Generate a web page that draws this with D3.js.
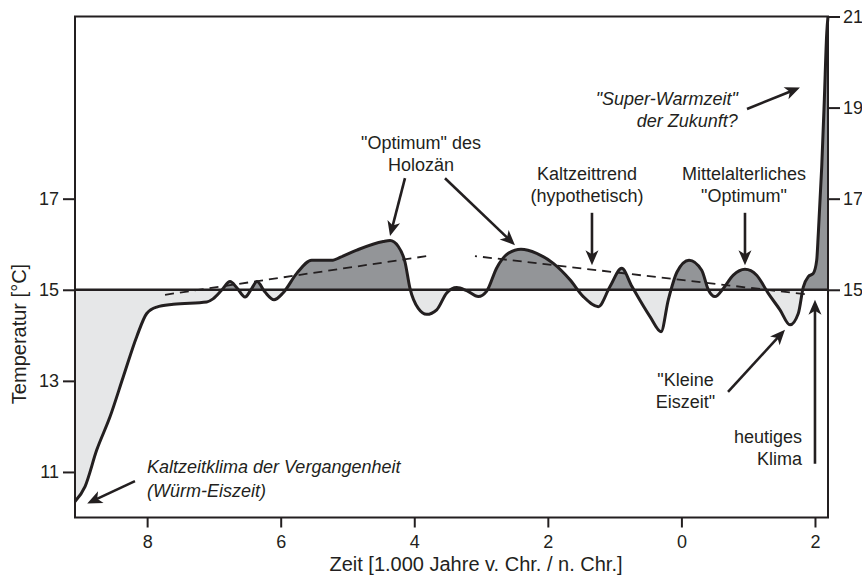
<!DOCTYPE html>
<html>
<head>
<meta charset="utf-8">
<script src="https://cdn.jsdelivr.net/npm/d3@7"></script>
<style>
  body { margin: 0; background: #fff; }
  svg { display: block; }
  text { font-family: "Liberation Sans", Arial, Helvetica, sans-serif; fill: #231f20; }
</style>
</head>
<body>
<svg id="chart" width="862" height="577"></svg>
<script>
// Jahre (negativ = v. Chr.) und Temperatur in °C
var years = [-9080, -8930, -8755, -8556, -8357, -8156, -8006, -7857, -7608, -7108,
  -7014, -6879, -6759, -6654, -6534, -6445, -6355, -6235, -6100, -5965,
  -5760, -5536, -5217, -5112, -4862, -4464, -4363, -4239, -4139, -4064,
  -3940, -3814, -3664, -3514, -3364, -3215, -3041, -2915, -2766, -2592,
  -2402, -2167, -1918, -1668, -1469, -1244, -1069, -894, -740, -470,
  -305, -196, -66, 114, 304, 403, 503, 627, 777, 952,
  1127, 1301, 1476, 1626, 1750, 1825, 1900, 1975, 2026, 2050,
  2101, 2140, 2176, 2195];
var temps = [10.35, 10.68, 11.48, 12.21, 13.09, 13.97, 14.48, 14.62, 14.68, 14.73,
  14.80, 15.0, 15.18, 15.04, 14.84, 15.0, 15.18, 14.95, 14.78, 14.93,
  15.36, 15.65, 15.65, 15.71, 15.87, 16.06, 16.08, 15.95, 15.61, 15.03,
  14.59, 14.46, 14.56, 14.93, 15.05, 14.98, 14.85, 14.97, 15.48, 15.80,
  15.89, 15.80, 15.58, 15.22, 14.85, 14.63, 15.07, 15.47, 15.07, 14.41,
  14.08, 14.78, 15.39, 15.65, 15.43, 15.0, 14.85, 15.03, 15.32, 15.45,
  15.32, 14.92, 14.56, 14.23, 14.48, 15.06, 15.29, 15.36, 15.65, 16.24,
  17.70, 19.17, 20.63, 21.0];

// Trendlinien (gestrichelt)
var trendWarm = [[-7732, 14.89], [-3809, 15.74]];
var trendCold = [[-3091, 15.74], [1925, 14.89]];

var baseTemp = 15;
var leftTicks = [11, 13, 15, 17];
var rightTicks = [15, 17, 19, 21];
var timeTicks = [-8000, -6000, -4000, -2000, 0, 2000];

// Beschriftungen: erste Grundlinie in Datenkoordinaten
var labels = [
  {lines: ["Kaltzeitklima der Vergangenheit", "(Würm-Eiszeit)"], year: -8002, temp: 10.98, anchor: "start", italic: true, lh: 24},
  {lines: ["\"Optimum\" des", "Holozän"], year: -3899, temp: 18.09, anchor: "middle"},
  {lines: ["Kaltzeittrend", "(hypothetisch)"], year: -1413, temp: 17.41, anchor: "middle"},
  {lines: ["Mittelalterliches", "\"Optimum\""], year: 937, temp: 17.41, anchor: "middle"},
  {lines: ["\"Super-Warmzeit\"", "der Zukunft?"], year: 845, temp: 19.06, anchor: "end", italic: true},
  {lines: ["\"Kleine", "Eiszeit\""], year: 61, temp: 12.89, anchor: "middle"},
  {lines: ["heutiges", "Klima"], year: 1806, temp: 11.64, anchor: "end"}
];
var arrows = [
  [[-8182, 10.80], [-8897, 10.31]],
  [[-4139, 17.45], [-4363, 16.18]],
  [[-3540, 17.45], [-2492, 15.98]],
  [[-1339, 16.69], [-1339, 15.54]],
  [[952, 16.69], [952, 15.54]],
  [[982, 18.97], [1775, 19.44]],
  [[698, 12.76], [1551, 14.12]],
  [[2000, 11.18], [2000, 14.78]]
];

var svg = d3.select("#chart");
var pLeft = 75, pRight = 828, pTop = 16.5, pBottom = 517.5;

var x = d3.scaleLinear().domain([-9080, 2195]).range([pLeft, pRight]);
var y = d3.scaleLinear().domain([10, 21]).range([pBottom, pTop]);

var data = years.map(function(d, i) { return [d, temps[i]]; });

var defs = svg.append("defs");
defs.append("clipPath").attr("id", "clipAbove")
  .append("rect").attr("x", pLeft).attr("y", pTop)
  .attr("width", pRight - pLeft).attr("height", y(baseTemp) - pTop);
defs.append("clipPath").attr("id", "clipBelow")
  .append("rect").attr("x", pLeft).attr("y", y(baseTemp))
  .attr("width", pRight - pLeft).attr("height", pBottom - y(baseTemp));

var area = d3.area()
  .curve(d3.curveMonotoneX)
  .x(function(d) { return x(d[0]); })
  .y0(y(baseTemp))
  .y1(function(d) { return y(d[1]); });

var line = d3.line()
  .curve(d3.curveMonotoneX)
  .x(function(d) { return x(d[0]); })
  .y(function(d) { return y(d[1]); });

svg.append("path").datum(data)
  .attr("d", area)
  .attr("fill", "#939598")
  .attr("clip-path", "url(#clipAbove)");

svg.append("path").datum(data)
  .attr("d", area)
  .attr("fill", "#e6e7e8")
  .attr("clip-path", "url(#clipBelow)");

// 15 °C Linie
svg.append("line")
  .attr("x1", pLeft).attr("x2", pRight)
  .attr("y1", y(baseTemp)).attr("y2", y(baseTemp))
  .attr("stroke", "#231f20").attr("stroke-width", 2.6);

var straight = d3.line()
  .x(function(d) { return x(d[0]); })
  .y(function(d) { return y(d[1]); });

svg.append("path").datum(trendWarm)
  .attr("d", straight)
  .attr("fill", "none").attr("stroke", "#231f20")
  .attr("stroke-width", 1.8).attr("stroke-dasharray", "9,6");

svg.append("path").datum(trendCold)
  .attr("d", straight)
  .attr("fill", "none").attr("stroke", "#231f20")
  .attr("stroke-width", 1.8).attr("stroke-dasharray", "9,6")
  .attr("stroke-dashoffset", 7);

svg.append("path").datum(data)
  .attr("d", line)
  .attr("fill", "none")
  .attr("stroke", "#231f20")
  .attr("stroke-width", 3)
  .attr("stroke-linejoin", "round");

// Achsen
var axLeft = svg.append("g")
  .attr("transform", "translate(" + pLeft + ",0)")
  .call(d3.axisLeft(y).tickValues(leftTicks).tickSize(12).tickPadding(4));
var axRight = svg.append("g")
  .attr("transform", "translate(" + pRight + ",0)")
  .call(d3.axisRight(y).tickValues(rightTicks).tickSize(12).tickPadding(3));
var axBottom = svg.append("g")
  .attr("transform", "translate(0," + pBottom + ")")
  .call(d3.axisBottom(x).tickValues(timeTicks).tickSize(10).tickPadding(8)
    .tickFormat(function(d) { return Math.abs(d / 1000); }));

[axLeft, axRight, axBottom].forEach(function(g) {
  g.select(".domain").remove();
  g.selectAll(".tick line").attr("stroke", "#231f20").attr("stroke-width", 2);
  g.selectAll(".tick text")
    .style("font-family", "'Liberation Sans', Arial, sans-serif")
    .style("font-size", "18px")
    .attr("fill", "#231f20");
});

svg.append("rect")
  .attr("x", pLeft).attr("y", pTop)
  .attr("width", pRight - pLeft).attr("height", pBottom - pTop)
  .attr("fill", "none").attr("stroke", "#231f20").attr("stroke-width", 2);

svg.append("text")
  .attr("transform", "translate(26," + 334 + ") rotate(-90)")
  .attr("text-anchor", "middle")
  .style("font-size", "20px")
  .text("Temperatur [°C]");

svg.append("text")
  .attr("x", 476).attr("y", 571)
  .attr("text-anchor", "middle")
  .style("font-size", "20px")
  .text("Zeit [1.000 Jahre v. Chr. / n. Chr.]");

// Pfeile
arrows.forEach(function(a) {
  var x0 = x(a[0][0]), y0 = y(a[0][1]), x1 = x(a[1][0]), y1 = y(a[1][1]);
  var ang = Math.atan2(y1 - y0, x1 - x0);
  var back = 9;
  svg.append("line")
    .attr("x1", x0).attr("y1", y0)
    .attr("x2", x1 - back * Math.cos(ang)).attr("y2", y1 - back * Math.sin(ang))
    .attr("stroke", "#231f20").attr("stroke-width", 2.6);
  svg.append("path")
    .attr("d", "M0,0 L-15,-6.5 L-11,0 L-15,6.5 Z")
    .attr("fill", "#231f20")
    .attr("transform", "translate(" + x1 + "," + y1 + ") rotate(" + (ang * 180 / Math.PI) + ")");
});

labels.forEach(function(l) {
  var t = svg.append("text")
    .attr("text-anchor", l.anchor)
    .style("font-size", "18px")
    .style("font-style", l.italic ? "italic" : "normal");
  l.lines.forEach(function(s, i) {
    t.append("tspan")
      .attr("x", x(l.year))
      .attr("y", y(l.temp) + i * (l.lh || 22))
      .text(s);
  });
});
</script>
</body>
</html>
